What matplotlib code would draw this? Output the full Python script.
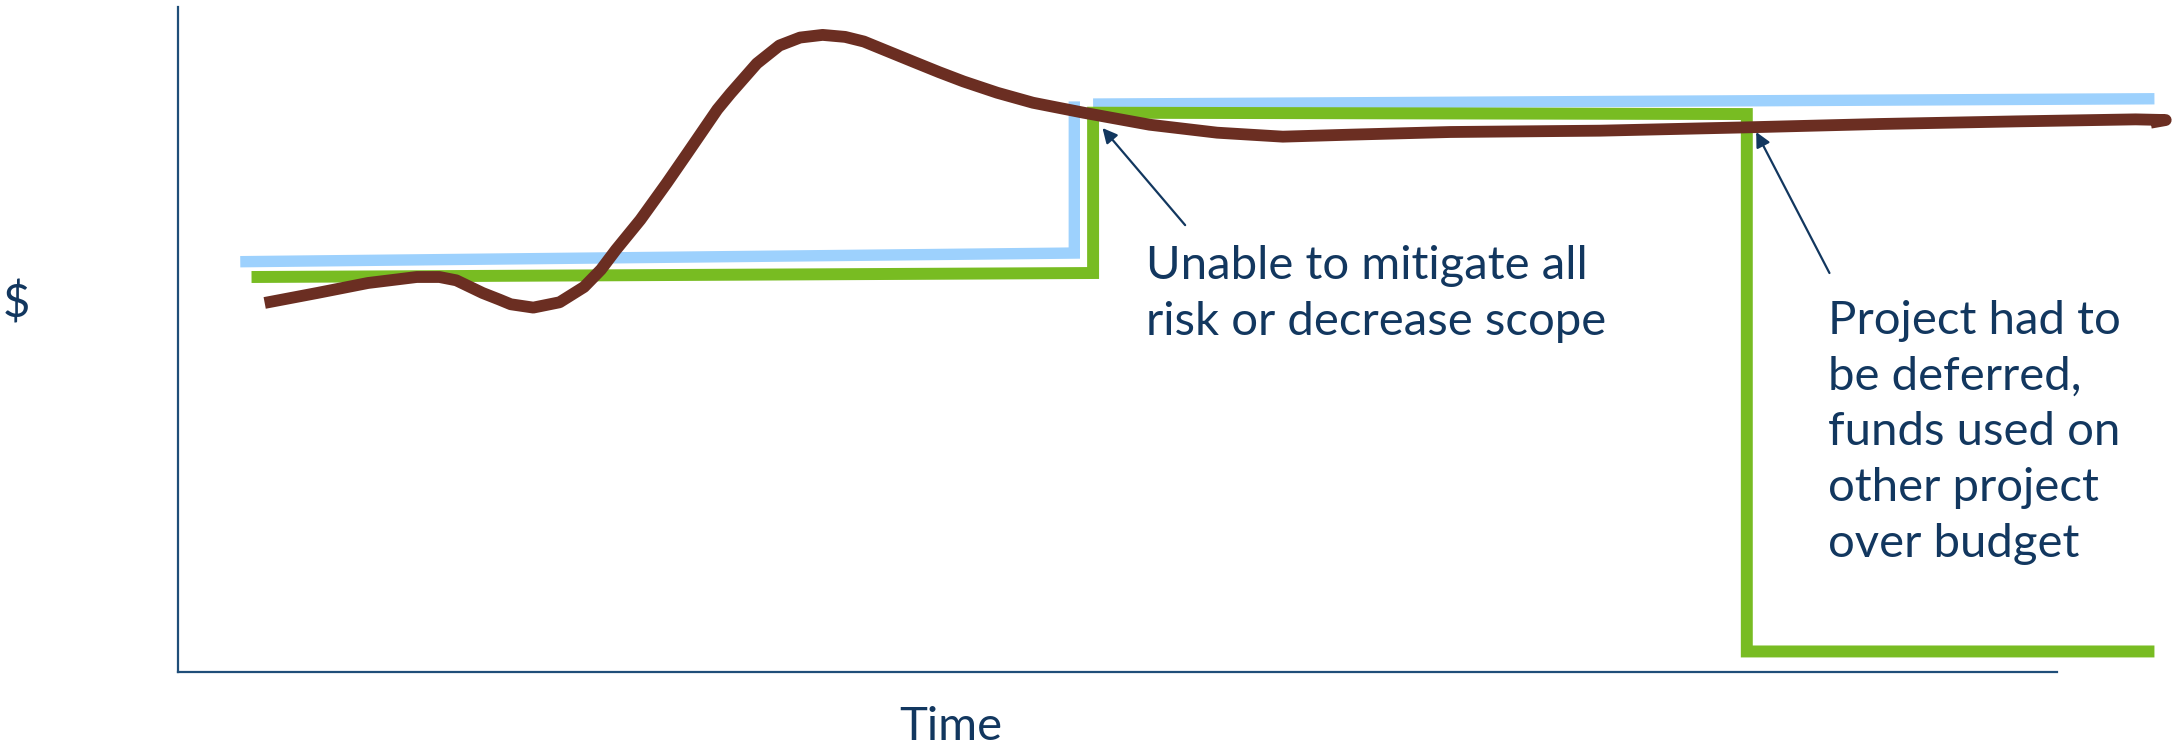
import matplotlib
matplotlib.use("Agg")
import matplotlib.pyplot as plt

# values (time 0-100 along the axis, $ 0-100 up the axis)
blue_x = [3.3, 47.7, 47.7]
blue_y = [61.7, 63.0, 85.8]
blue_upper_x = [48.7, 105.2]
blue_upper_y = [85.4, 86.2]

green_x = [3.9, 48.7, 48.7, 83.5, 83.5, 105.2]
green_y = [59.4, 60.0, 84.1, 83.9, 3.1, 3.1]

brown_x = [4.6, 7.4, 10.1, 12.7, 13.9, 14.8, 16.2, 17.1, 17.7, 18.9, 20.3,
           21.6, 22.5, 23.3, 24.6, 26.0, 27.1, 28.7, 29.4, 30.8, 32.0, 33.1,
           34.3, 35.5, 36.5, 37.8, 39.1, 40.5, 41.8, 43.6, 45.5, 48.2, 51.7,
           55.3, 58.8, 62.4, 67.7, 75.7, 83.5, 90.5, 97.9, 104.2, 105.8, 105.0]
brown_y = [55.5, 57.0, 58.5, 59.4, 59.4, 58.9, 57.0, 56.0, 55.3, 54.8, 55.6,
           57.9, 60.5, 63.5, 68.0, 73.5, 78.0, 84.6, 87.0, 91.5, 94.2, 95.4,
           95.8, 95.5, 94.8, 93.3, 91.8, 90.2, 88.8, 87.1, 85.6, 84.1, 82.3,
           81.1, 80.5, 80.8, 81.2, 81.4, 81.9, 82.4, 82.8, 83.1, 83.0, 82.6]

note1 = "Unable to mitigate all\nrisk or decrease scope"
note1_head = (49.2, 81.8)
note1_tail = (53.6, 67.2)
note1_pos = (51.5, 64.2)

note2 = "Project had to\nbe deferred,\nfunds used on\nother project\nover budget"
note2_head = (84.0, 81.2)
note2_tail = (87.9, 60.0)
note2_pos = (87.8, 55.9)

NAVY = "#12375f"
AXIS = "#1f4e79"
FONT = "Lato"
SIZE = 34

fig = plt.figure(figsize=(21.82, 7.49), dpi=100)
ax = fig.add_axes([0.0817, 0.1027, 0.8609, 0.8880])
ax.set_xlim(0, 100)
ax.set_ylim(0, 100)

ax.plot(blue_x, blue_y, color="#9dd1fd", lw=8.2, solid_joinstyle="miter",
        solid_capstyle="butt", clip_on=False)
ax.plot(blue_upper_x, blue_upper_y, color="#9dd1fd", lw=8.2,
        solid_capstyle="butt", clip_on=False)
ax.plot(green_x, green_y, color="#78bc22", lw=8.6, solid_joinstyle="miter",
        solid_capstyle="butt", clip_on=False)
ax.plot(brown_x, brown_y, color="#6b2e22", lw=8.5, solid_capstyle="butt",
        solid_joinstyle="round", clip_on=False)

for head, tail in [(note1_head, note1_tail), (note2_head, note2_tail)]:
    ax.annotate("", xy=head, xytext=tail,
                arrowprops=dict(arrowstyle="-|>", color=NAVY, lw=1.6,
                                mutation_scale=22, shrinkA=0, shrinkB=0))

ax.text(*note1_pos, note1, color=NAVY, fontsize=SIZE, family=FONT,
        va="top", ha="left", linespacing=1.4)
ax.text(*note2_pos, note2, color=NAVY, fontsize=SIZE, family=FONT,
        va="top", ha="left", linespacing=1.4)

for side in ["top", "right"]:
    ax.spines[side].set_visible(False)
for side in ["left", "bottom"]:
    ax.spines[side].set_color(AXIS)
    ax.spines[side].set_linewidth(1.6)
ax.set_xticks([])
ax.set_yticks([])

fig.text(0.0077, 0.595, "$", color=NAVY, fontsize=SIZE, family=FONT,
         ha="center", va="center")
fig.text(0.4357, 0.030, "Time", color=NAVY, fontsize=SIZE, family=FONT,
         ha="center", va="center")

fig.savefig("out.png", dpi=100, facecolor="white")
